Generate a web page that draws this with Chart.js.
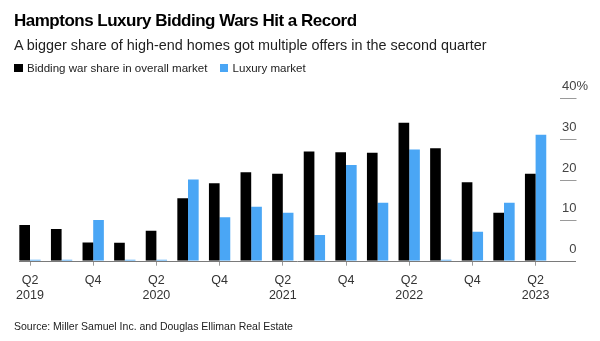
<!DOCTYPE html>
<html>
<head>
<meta charset="utf-8">
<script src="https://cdn.jsdelivr.net/npm/chart.js@4"></script>
<style>
  html, body { margin: 0; padding: 0; background: #fff; }
  body { width: 600px; height: 341px; position: relative; overflow: hidden; font-family: 'Liberation Sans', Arial, sans-serif; color: #000; }
  #wrap { position: absolute; left: 0; top: 0; width: 600px; height: 341px; }
  .txt { position: absolute; left: 14px; white-space: nowrap; line-height: 1; }
  #title { top: 12px; font-size: 17px; font-weight: bold; letter-spacing: -0.5px; }
  #subtitle { top: 37.8px; font-size: 14.4px; color: #222; }
  #legend { top: 62.9px; font-size: 11.55px; color: #222; }
  #legend span.sw { display: inline-block; width: 8.5px; height: 8.5px; margin-right: 4.5px; vertical-align: -0.5px; }
  #legend span.item { margin-right: 9px; }
  #source { top: 321px; font-size: 10.5px; color: #222; }
</style>
</head>
<body>
<div id="wrap"><canvas id="chart" width="600" height="341"></canvas></div>
<div class="txt" id="title">Hamptons Luxury Bidding Wars Hit a Record</div>
<div class="txt" id="subtitle">A bigger share of high-end homes got multiple offers in the second quarter</div>
<div class="txt" id="legend">
  <span class="item"><span class="sw" style="background:#000"></span>Bidding war share in overall market</span>
  <span class="item"><span class="sw" style="background:#4aa6f5"></span>Luxury market</span>
</div>
<div class="txt" id="source">Source: Miller Samuel Inc. and Douglas Elliman Real Estate</div>
<script>
// quarterly share of homes sold in a bidding war (%)
const QUARTERS = ['Q2', 'Q3', 'Q4', 'Q1', 'Q2', 'Q3', 'Q4', 'Q1', 'Q2', 'Q3', 'Q4', 'Q1', 'Q2', 'Q3', 'Q4', 'Q1', 'Q2'];
const YEARS = ['2019', '2019', '2019', '2020', '2020', '2020', '2020', '2021', '2021', '2021', '2021', '2022', '2022', '2022', '2022', '2023', '2023'];
const OVERALL = [8.8, 7.8, 4.5, 4.4, 7.4, 15.4, 19.1, 21.8, 21.4, 26.9, 26.7, 26.6, 34.0, 27.7, 19.3, 11.8, 21.4];
const LUXURY = [0, 0, 10.0, 0, 0, 20.0, 10.7, 13.3, 11.8, 6.3, 23.6, 14.3, 27.4, 0, 7.1, 14.3, 31.0];
const Y_TICKS = [0, 10, 20, 30, 40];

const BLACK = '#000000';
const BLUE = '#4aa6f5';
const AXIS = '#7a7a7a';
const TICK = '#9a9a9a';
const LABEL = '#333';

const labels = QUARTERS.map((q, i) => q + ' ' + YEARS[i]);

// baseline under the bars, running out to the value labels
const baseline = {
  id: 'baseline',
  beforeDatasetsDraw(chart) {
    const { ctx, scales: { y } } = chart;
    const py = Math.round(y.getPixelForValue(0)) + 0.5;
    ctx.save();
    ctx.strokeStyle = AXIS;
    ctx.lineWidth = 1;
    ctx.beginPath();
    ctx.moveTo(19, py);
    ctx.lineTo(576, py);
    ctx.stroke();
    ctx.restore();
  }
};

// right-hand value labels sitting above short tick lines
const valueAxis = {
  id: 'valueAxis',
  afterDraw(chart) {
    const { ctx, scales: { y } } = chart;
    ctx.save();
    ctx.font = "13px 'Liberation Sans', Arial, sans-serif";
    ctx.fillStyle = '#444';
    ctx.textBaseline = 'middle';
    Y_TICKS.forEach(v => {
      const py = Math.round(y.getPixelForValue(v)) + 0.5;
      if (v > 0) {
        ctx.strokeStyle = TICK;
        ctx.lineWidth = 1;
        ctx.beginPath();
        ctx.moveTo(560, py);
        ctx.lineTo(576.5, py);
        ctx.stroke();
      }
      ctx.textAlign = 'right';
      ctx.fillText(String(v), 576.5, py - 12.3);
      if (v === 40) {
        ctx.textAlign = 'left';
        ctx.fillText('%', 576.5, py - 12.3);
      }
    });
    ctx.restore();
  }
};

new Chart(document.getElementById('chart'), {
  type: 'bar',
  data: {
    labels,
    datasets: [
      { label: 'Bidding war share in overall market', data: OVERALL, backgroundColor: BLACK, borderWidth: 0 },
      { label: 'Luxury market', data: LUXURY, backgroundColor: BLUE, borderWidth: 0, minBarLength: 1 }
    ]
  },
  options: {
    responsive: false,
    animation: false,
    layout: { padding: { left: 14.2, right: 48.6, top: 98.3, bottom: 0 } },
    datasets: { bar: { categoryPercentage: 0.675, barPercentage: 1 } },
    plugins: { legend: { display: false }, tooltip: { enabled: false }, title: { display: false } },
    scales: {
      x: {
        afterFit: axis => { axis.height = 80.3; },
        border: { display: false },
        grid: {
          offset: false,
          drawOnChartArea: false,
          drawTicks: true,
          tickLength: 5,
          tickColor: ctx => (ctx.index % 2 ? 'rgba(0,0,0,0)' : TICK)
        },
        ticks: {
          autoSkip: false,
          maxRotation: 0,
          padding: 7,
          color: LABEL,
          font: { family: "'Liberation Sans', Arial, sans-serif", size: 12.5, lineHeight: 1.2 },
          callback: (v, i) => {
            if (i % 2) return '';
            return QUARTERS[i] === 'Q2' ? [QUARTERS[i], YEARS[i]] : QUARTERS[i];
          }
        }
      },
      y: {
        display: false,
        min: 0,
        max: 40
      }
    }
  },
  plugins: [baseline, valueAxis]
});
</script>
</body>
</html>
